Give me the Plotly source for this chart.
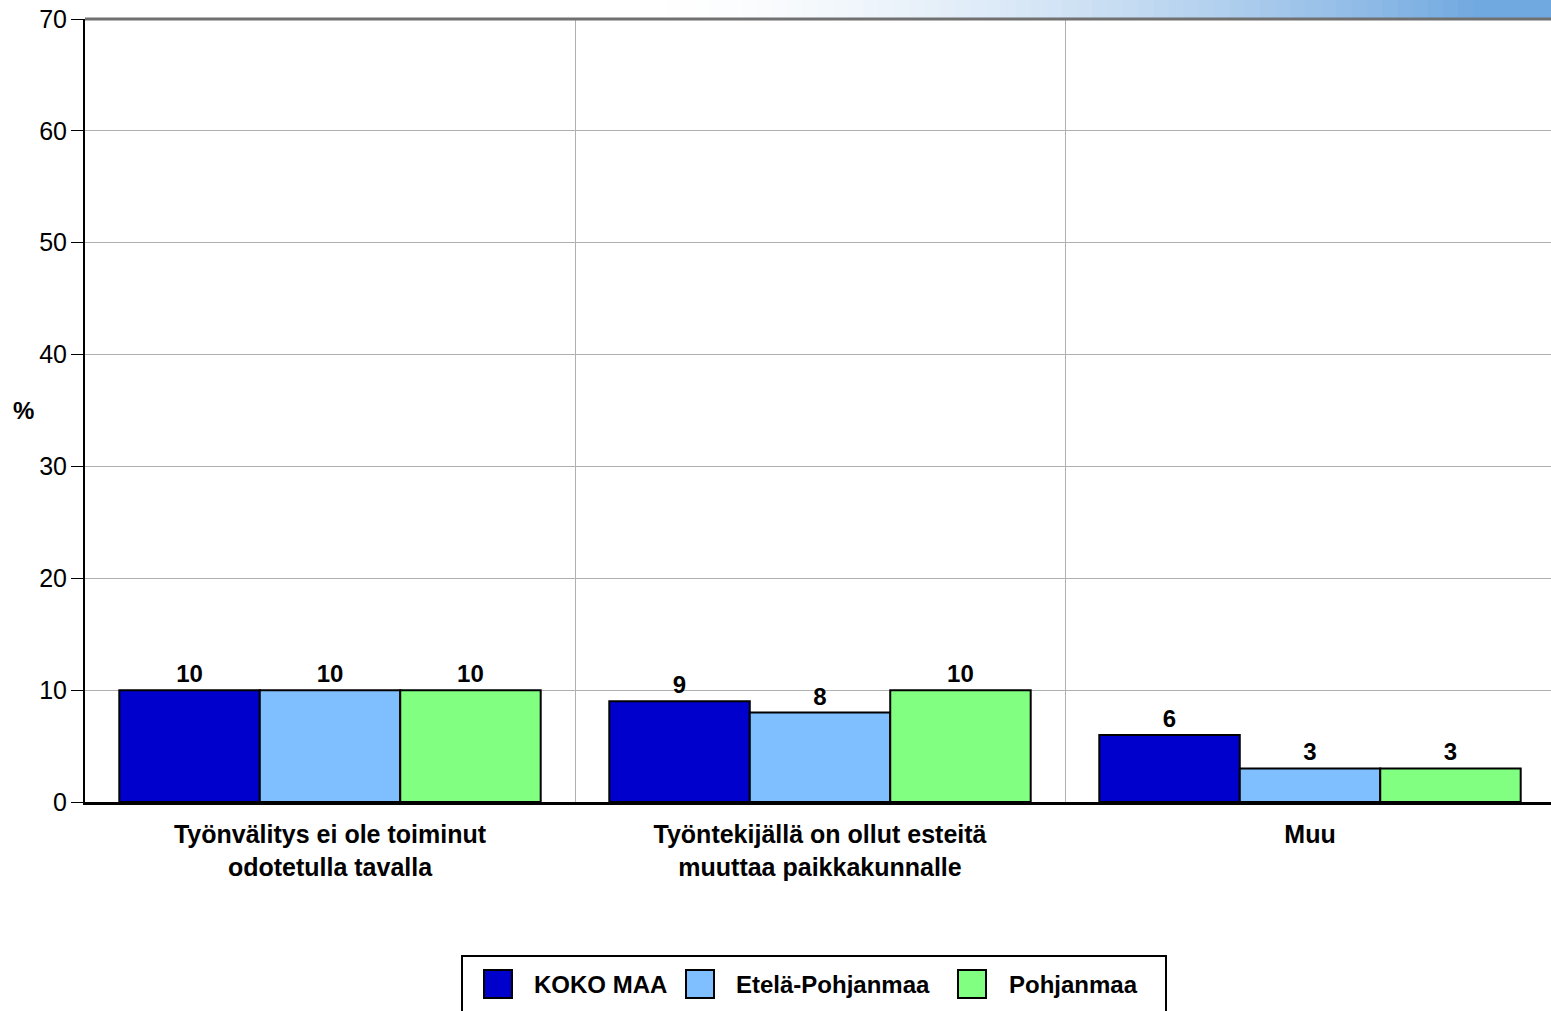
import plotly.graph_objects as go

categories = ["Työnvälitys ei ole toiminut<br>odotetulla tavalla",
              "Työntekijällä on ollut esteitä<br>muuttaa paikkakunnalle",
              "Muu"]
series_names = ["KOKO MAA", "Etelä-Pohjanmaa", "Pohjanmaa"]
koko_maa = [10, 9, 6]
etela_pohjanmaa = [10, 8, 3]
pohjanmaa = [10, 10, 3]
colors = ["#0000CC", "#80BFFF", "#80FF80"]
y_ticks = [0, 10, 20, 30, 40, 50, 60, 70]

FONT = "Liberation Sans, Arial, sans-serif"
fig = go.Figure()

for name, vals, col in zip(series_names, [koko_maa, etela_pohjanmaa, pohjanmaa], colors):
    fig.add_trace(go.Bar(
        x=categories, y=vals, name=name,
        marker=dict(color=col, line=dict(color="black", width=2)),
        text=vals, texttemplate="<b>%{text}</b>", textposition="outside",
        textfont=dict(family=FONT, size=24, color="black"),
        cliponaxis=False, showlegend=False,
    ))

# page-pixel -> paper coordinate helpers (plot area spans 85..1555 x 19..802; page clipped at 1551)
PL, PR, PT, PB = 85, 1555, 19, 802
def px(p):
    return (p - PL) / (PR - PL)
def py(p):
    return (PB - p) / (PB - PT)

shapes = []
# decorative gradient strip at top right
n = 60
x0p = 650
for i in range(n):
    t = i / (n - 1)
    a = min(1.0, t ** 1.6 * 1.15)
    r = int(255 - a * (255 - 112))
    g = int(255 - a * (255 - 168))
    b = int(255 - a * (255 - 224))
    xa = x0p + (PR + 10 - x0p) * i / n
    xb = x0p + (PR + 10 - x0p) * (i + 1) / n + 1
    shapes.append(dict(type="rect", xref="paper", yref="paper",
                       x0=px(xa), x1=px(xb), y0=py(PT), y1=py(-5),
                       line=dict(width=0), fillcolor=f"rgb({r},{g},{b})", layer="below"))
# top border line at 70
shapes.append(dict(type="line", xref="paper", yref="paper", x0=0, x1=1, y0=1, y1=1,
                   line=dict(color="#707070", width=3)))

# manual legend (large square symbols with outline)
legend_box = (462, 1166, 956, 1020)
square_left = [484, 686, 958]
text_left = [532, 734, 1007]
sq = 28
ycen = 984
shapes.append(dict(type="rect", xref="paper", yref="paper",
                   x0=px(legend_box[0]), x1=px(legend_box[1]),
                   y0=py(legend_box[3]), y1=py(legend_box[2]),
                   line=dict(color="black", width=2), fillcolor="white"))
annotations = []
for name, col, sl, tl in zip(series_names, colors, square_left, text_left):
    shapes.append(dict(type="rect", xref="paper", yref="paper",
                       x0=px(sl), x1=px(sl + sq), y0=py(ycen + sq / 2), y1=py(ycen - sq / 2),
                       line=dict(color="black", width=2), fillcolor=col))
    annotations.append(dict(text=f"<b>{name}</b>", xref="paper", yref="paper",
                            x=px(tl), y=py(ycen), xanchor="left", yanchor="middle",
                            showarrow=False, font=dict(family=FONT, size=24, color="black")))

annotations.append(dict(text="<b>%</b>", xref="paper", yref="paper", x=px(23), y=py(410),
                        xanchor="center", yanchor="middle", showarrow=False,
                        font=dict(family=FONT, size=24, color="black")))

W, H = PR, 1011
fig.update_layout(
    width=W, height=H,
    margin=dict(l=PL, r=0, t=PT, b=H - PB),
    paper_bgcolor="white", plot_bgcolor="white",
    barmode="group", bargap=0.14, bargroupgap=0,
    font=dict(family=FONT, size=20, color="black"),
    showlegend=False,
    xaxis=dict(type="category", tickson="boundaries", showgrid=True, gridcolor="#b0b0b0", gridwidth=1,
               ticks="", showline=True, linecolor="black", linewidth=3,
               tickfont=dict(family=FONT, size=25, color="black", weight="bold"),
               ticklabelstandoff=8, range=[-0.5, 2.5], zeroline=False),
    yaxis=dict(range=[0, 70], tickvals=y_ticks, showgrid=True, gridcolor="#b0b0b0", gridwidth=1,
               ticks="outside", ticklen=12, tickcolor="black", tickwidth=1,
               showline=True, linecolor="black", linewidth=2, zeroline=False,
               ticklabeloverflow="allow",
               tickfont=dict(family=FONT, size=25, color="black"), ticklabelstandoff=-1),
    shapes=shapes,
    annotations=annotations,
)

fig.write_html("out.html",
               config={"displayModeBar": False},
               post_script="document.body.style.margin='0px';document.body.style.overflow='hidden';")
